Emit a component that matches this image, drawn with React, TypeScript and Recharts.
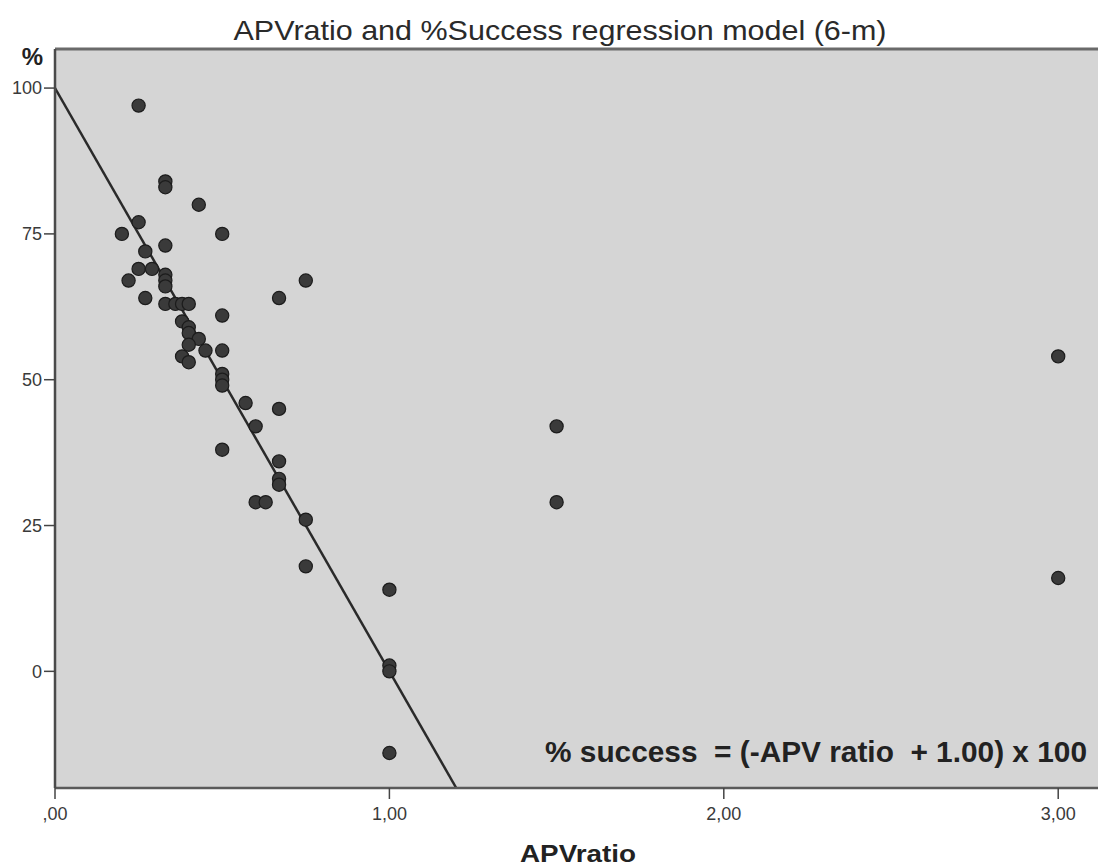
import React from 'react';
import { ScatterChart, Scatter, XAxis, YAxis, CartesianGrid, ReferenceLine } from 'recharts';

// APV ratio (x) and % success (y) observations
const apvRatio: number[] = [
  0.25, 0.33, 0.33, 0.43, 0.25, 0.2, 0.5, 0.33, 0.27, 0.25, 0.29, 0.22, 0.33, 0.33, 0.33, 0.75,
  0.27, 0.67, 0.33, 0.36, 0.38, 0.4, 0.5, 0.38, 0.4, 0.4, 0.43, 0.4, 0.45, 0.5, 0.38, 0.4,
  0.5, 0.5, 0.5, 0.57, 0.67, 0.6, 0.5, 0.67, 0.67, 0.67, 0.6, 0.63, 0.75, 0.75, 1.0, 1.0,
  1.0, 1.0, 1.5, 1.5, 3.0, 3.0,
];
const successPct: number[] = [
  97, 84, 83, 80, 77, 75, 75, 73, 72, 69, 69, 67, 68, 67, 66, 67,
  64, 64, 63, 63, 63, 63, 61, 60, 59, 58, 57, 56, 55, 55, 54, 53,
  51, 50, 49, 46, 45, 42, 38, 36, 33, 32, 29, 29, 26, 18, 14, 1,
  0, -14, 42, 29, 54, 16,
];

// regression line endpoints (line from y=100 at x=0 to the bottom edge)
const regressionX: number[] = [0, 1.2];
const regressionY: number[] = [100, -20];

const xTicks: number[] = [0, 1, 2, 3];
const yTicks: number[] = [0, 25, 50, 75, 100];
const xDomain: [number, number] = [0, 3.119];
const yDomain: [number, number] = [-20, 106.7];

const titleText = 'APVratio and %Success regression model (6-m)';
const xAxisTitle = 'APVratio';
const yAxisTitle = '%';
const equationText = '% success  = (-APV ratio  + 1.00) x 100';

const points = apvRatio.map((x, i) => ({ x, y: successPct[i] }));
const segment = regressionX.map((x, i) => ({ x, y: regressionY[i] }));

const FONT = '"Liberation Sans", Arial, Helvetica, sans-serif';

const Dot = (props: any) => {
  const { cx, cy } = props;
  if (cx == null || cy == null) return null;
  return <circle cx={cx} cy={cy} r={6.6} fill="#3a3a3a" stroke="#1c1c1c" strokeWidth={1.2} />;
};

const fmtX = (v: number) => (v === 0 ? ',00' : `${v},00`);

export default function App() {
  return (
    <div style={{ position: 'relative', width: 1098, height: 867, overflow: 'hidden', background: '#fff' }}>
      <style>{'html,body{margin:0;padding:0;overflow:hidden}'}</style>
      <div style={{ position: 'absolute', left: 8, top: 8, width: 1090, height: 859 }}>
        <ScatterChart
          width={1090}
          height={859}
          margin={{ top: 41, right: 0, left: 0, bottom: 0 }}
          style={{ fontFamily: FONT }}
        >
          <CartesianGrid fill="#d5d5d5" horizontal={false} vertical={false} stroke="none" />
          <XAxis
            type="number"
            dataKey="x"
            domain={xDomain}
            ticks={xTicks}
            tickFormatter={fmtX}
            allowDataOverflow
            height={79}
            tickSize={11}
            tickMargin={8}
            axisLine={{ stroke: '#5a5a5a', strokeWidth: 2.5 }}
            tickLine={{ stroke: '#444', strokeWidth: 1.5 }}
            tick={{ fill: '#3a3a3a', fontSize: 18, fontFamily: FONT }}
          />
          <YAxis
            type="number"
            dataKey="y"
            domain={yDomain}
            ticks={yTicks}
            allowDataOverflow
            width={47}
            tickSize={11}
            tickMargin={2}
            axisLine={{ stroke: '#4a4a4a', strokeWidth: 2.5 }}
            tickLine={{ stroke: '#444', strokeWidth: 1.5 }}
            tick={{ fill: '#3a3a3a', fontSize: 18, fontFamily: FONT }}
          />
          <ReferenceLine y={yDomain[1]} stroke="#6a6a6a" strokeWidth={3} ifOverflow="visible" />
          <ReferenceLine
            segment={segment}
            stroke="#2a2a2a"
            strokeWidth={2.5}
            ifOverflow="hidden"
          />
          <Scatter data={points} shape={Dot} isAnimationActive={false} />
        </ScatterChart>
        <svg
          width={1090}
          height={859}
          style={{ position: 'absolute', left: 0, top: 0, pointerEvents: 'none' }}
        >
          <text
            x={552}
            y={32}
            textAnchor="middle"
            fontFamily={FONT}
            fontSize={28}
            fill="#2a2a2a"
            textLength={653}
            lengthAdjust="spacingAndGlyphs"
          >
            {titleText}
          </text>
          <text x={35} y={57} textAnchor="end" fontFamily={FONT} fontSize={24} fontWeight="bold" fill="#222">
            {yAxisTitle}
          </text>
          <text
            x={512}
            y={854}
            fontFamily={FONT}
            fontSize={24}
            fontWeight="bold"
            fill="#222"
            textLength={116}
            lengthAdjust="spacingAndGlyphs"
          >
            {xAxisTitle}
          </text>
          <text
            x={537}
            y={754}
            fontFamily={FONT}
            fontSize={30}
            fontWeight="bold"
            fill="#222"
            style={{ whiteSpace: 'pre' }}
            textLength={542}
            lengthAdjust="spacingAndGlyphs"
          >
            {equationText}
          </text>
        </svg>
      </div>
    </div>
  );
}
